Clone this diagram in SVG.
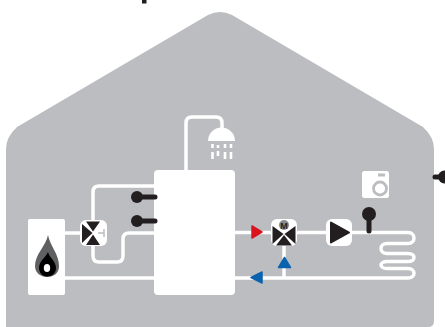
<svg xmlns="http://www.w3.org/2000/svg" width="445" height="327" viewBox="0 0 445 327">
<style>
.pipe{fill:none;stroke:#fff;stroke-width:3.5}
.box{fill:#fff}
.blk{fill:#231f20}
.stem{stroke:#231f20;stroke-width:5;stroke-linecap:round;fill:none}
.tri{stroke-linejoin:round;stroke-width:1.5}
.red{fill:#d9141f;stroke:#d9141f}
.blue{fill:#0b62ae;stroke:#0b62ae}
.drop{stroke:#fff;stroke-width:2.6;fill:none}
</style>
<rect width="445" height="327" fill="#fff"/>
<g id="house"><path d="M6 327V149Q6 137 17 127L208 15Q220 9 232 15L423 127Q434 137 434 149V321Q434 327 428 327Z" fill="#bcbdc0"/></g>
<rect id="title-fragment" x="142" y="0" width="4.500" height="3.500" fill="#231f20"/>
<g id="connectors">
<path class="pipe" d="M186 170V123Q186 117 192 117H216Q222 117 222 123V131"/>
<path class="pipe" d="M65 233H80M93 220V192Q93 186 99 186H154"/>
<path class="pipe" d="M93 246V256Q93 262 99 262H117Q123 262 123 256V239Q123 233 129 233H154"/>
<path class="pipe" d="M65 278H154"/>
<path class="pipe" d="M235 232.500H271M297 232.500H326M352 232.500H408C416 232.500 416 243.500 408 243.500H387C379 243.500 379 253.500 387 253.500H408C416 253.500 416 261.500 408 261.500H387C379 261.500 379 268.500 387 268.500H408C416 268.500 416 278 408 278H235"/>
<path class="pipe" d="M284 246V278"/>
</g>
<g id="boiler"><rect class="box" x="28" y="219" width="37" height="76" rx="2"/>
<path d="M48 235C46 246 35 254 35 266C35 273 41 277 47 277C54 277 59 273 59 266C59 254 50 246 48 235Z" fill="#5f6062"/>
<path d="M48 252C46 257 39 261 39 268C39 273 43 276.500 47 276.500C52 276.500 56 273 56 268C56 261 49 257 48 252Z" fill="#000"/>
<ellipse cx="47" cy="268" rx="3.200" ry="4" fill="#fff"/></g>
<g id="tank"><rect class="box" x="154" y="170" width="81" height="125" rx="4"/></g>
<g id="shower"><path d="M208 141A13.500 13.500 0 0 1 235 141Z" fill="#fff"/>
<path class="drop" d="M212.500 144V148M212.500 152V159M218 145V148M218 151V156M225 144V148M225 152V159M231 144V148M231 152V159"/></g>
<g id="sensor-1"><circle class="blk" cx="137" cy="197" r="6"/><path class="stem" d="M139 197H155"/></g>
<g id="sensor-2"><circle class="blk" cx="137" cy="221" r="6"/><path class="stem" d="M139 221H155"/></g>
<g id="valve-left"><rect class="box" x="80" y="220" width="27" height="26" rx="6"/>
<path class="blk" d="M82 224L92.500 233L82 243Z M86 221.500H100L93 231.500Z M86 245H100L93 234.500Z"/>
<path d="M98 233H104M104 229V237" stroke="#bcbdc0" stroke-width="1.500" fill="none"/></g>
<g id="arrow-red"><path class="tri red" d="M252 226V238L262 232Z"/></g>
<g id="valve-mix"><rect class="box" x="271" y="219" width="26" height="27" rx="6"/>
<circle cx="284" cy="225" r="5" fill="#8a8b8d"/>
<path class="blk" d="M272.500 226L283.500 234L272.500 244Z M295.500 226L284.500 234L295.500 244Z M276 245.500H292L284 235Z"/>
<text x="284" y="229" font-family="Liberation Sans, sans-serif" font-size="9" font-weight="700" text-anchor="middle" fill="#231f20">M</text></g>
<g id="arrow-blue-up"><path class="tri blue" d="M278.500 267.500H290.500L284.500 257.500Z"/></g>
<g id="arrow-blue-left"><path class="tri blue" d="M262 272V283L251 277.500Z"/></g>
<g id="pump"><rect class="box" x="326" y="219" width="26" height="27" rx="6"/>
<path class="blk" stroke="#231f20" stroke-width="2" stroke-linejoin="round" d="M331 222.500L349 232.500L331 242.500Z"/></g>
<g id="sensor-room"><circle class="blk" cx="369" cy="214" r="7"/><path class="stem" d="M369 216V231"/></g>
<g id="washer"><rect class="box" x="362" y="171" width="27" height="27" rx="2.500"/>
<rect x="378" y="173.500" width="7" height="3" fill="#bcbdc0"/>
<circle cx="380" cy="188.500" r="6.500" fill="none" stroke="#bcbdc0" stroke-width="2.800"/></g>
<g id="sensor-outdoor"><circle class="blk" cx="444.500" cy="177" r="6.500"/><path class="stem" d="M435 177H442"/></g>
</svg>
